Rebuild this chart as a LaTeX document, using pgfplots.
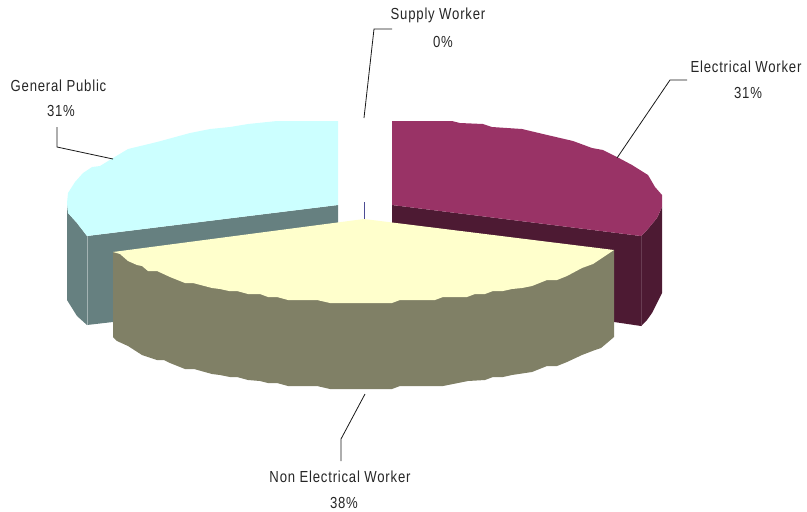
\documentclass[border=0pt]{standalone}
\usepackage{pgfplots}
\pgfplotsset{compat=1.18}
\usepackage{fontspec}
\setmainfont[FakeStretch=0.82,LetterSpace=5]{Liberation Sans}
\definecolor{pubtop}{HTML}{CCFFFF}
\definecolor{pubside}{HTML}{668080}
\definecolor{electop}{HTML}{993366}
\definecolor{elecside}{HTML}{4D1A33}
\definecolor{nontop}{HTML}{FFFFCC}
\definecolor{nonside}{HTML}{808066}
\tikzset{slicetext/.style={font=\fontsize{16}{16}\selectfont, text=black!85, inner sep=0pt, anchor=center}}
\begin{document}
\begin{tikzpicture}
\path[use as bounding box] (0,0) rectangle (807pt,512pt);
\begin{axis}[
  at={(0,0)}, anchor=south west,
  scale only axis, width=807pt, height=512pt,
  xmin=0, xmax=807, ymin=0, ymax=512, y dir=reverse,
  hide axis, clip=false,
  leader/.style={draw=black!90, line width=0.8pt, no markers},
]
% General Public: cut face and rim
\addplot[fill=pubside, draw=none] coordinates {(87,236)(338,205)(338,245)(113,322)(87,325)} -- cycle;
\addplot[fill=pubside, draw=none] coordinates {(67,203)(68,213)(77,223)(87,236)(87,325)(77,316)(72,308)(67,300)} -- cycle;
\addplot[draw=pubside!60!white, line width=0.5pt] coordinates {(87,236)(87,325)};
% Electrical Worker: cut face and rim
\addplot[fill=elecside, draw=none] coordinates {(392,205)(641,236)(641,326)(614,322)(392,235)} -- cycle;
\addplot[fill=elecside, draw=none] coordinates {(641,236)(647,230)(657,218)(662,207)(662,293)(657,303)(652,313)(647,320)(641,326)} -- cycle;
\addplot[draw=elecside!85!white, line width=0.5pt] coordinates {(641,236)(641,326)};
% Top faces of the two rear slices
\addplot[fill=pubtop, draw=none] coordinates {(87,236)(77,223)(68,213)(67,203)(68,193)(75,182)(83,173)(92,167)(100,166)(113,158)(128,149)(157,142)(190,133)(210,129)(230,127)(248,124)(277,121)(338,121)(338,205)} -- cycle;
\addplot[fill=electop, draw=none] coordinates {(392,121)(452,121)(460,123)(483,124)(492,127)(522,129)(543,134)(573,141)(592,148)(603,150)(617,157)(632,165)(648,175)(655,187)(662,195)(662,207)(657,218)(647,230)(641,236)(392,205)} -- cycle;
% Supply Worker: zero-sized slice
\addplot[draw=blue!40!black!70, line width=0.6pt] coordinates {(364,202)(364,219)};
% Non Electrical Worker: rim, then top face
\addplot[fill=nonside, draw=none] coordinates {(113,252)(614,250)(614,337)(607,343)(601,348)(595,350)(582,355)(567,362)(557,366)(547,366)(532,372)(512,375)(503,377)(493,377)(485,380)(468,381)(443,386)(400,386)(392,389)(330,389)(317,386)(288,386)(277,383)(268,383)(260,381)(248,380)(237,377)(230,377)(220,375)(212,374)(194,369)(185,369)(170,363)(164,360)(157,360)(142,355)(128,346)(117,341)(113,337)} -- cycle;
\addplot[fill=nontop, draw=none] coordinates {(364,219)(614,250)(593,264)(582,268)(567,276)(557,280)(547,280)(532,286)(522,288)(512,289)(503,291)(493,291)(485,294)(475,294)(467,297)(443,297)(435,300)(400,300)(392,303)(330,303)(317,300)(288,300)(277,297)(268,297)(260,294)(248,294)(237,291)(229,291)(220,289)(212,288)(193,283)(185,283)(170,277)(157,271)(148,271)(142,266)(137,265)(128,261)(120,254)(113,252)} -- cycle;
% Leader lines
\addplot[leader] coordinates {(57,127)(57,147)(113,159)};
\addplot[leader] coordinates {(687,80)(670,80)(617,158)};
\addplot[leader] coordinates {(392,29)(374,29)(364,118)};
\addplot[leader] coordinates {(365,394)(341,439)(341,461)};
% Slice labels
\node[slicetext] at (axis cs:58.5,86) {General Public};
\node[slicetext] at (axis cs:61,111) {31\%};
\node[slicetext] at (axis cs:746,67) {Electrical Worker};
\node[slicetext] at (axis cs:748,93) {31\%};
\node[slicetext] at (axis cs:438,15) {Supply Worker};
\node[slicetext] at (axis cs:443,42) {0\%};
\node[slicetext] at (axis cs:340,477) {Non Electrical Worker};
\node[slicetext] at (axis cs:344,503) {38\%};
\end{axis}
\end{tikzpicture}
\end{document}
